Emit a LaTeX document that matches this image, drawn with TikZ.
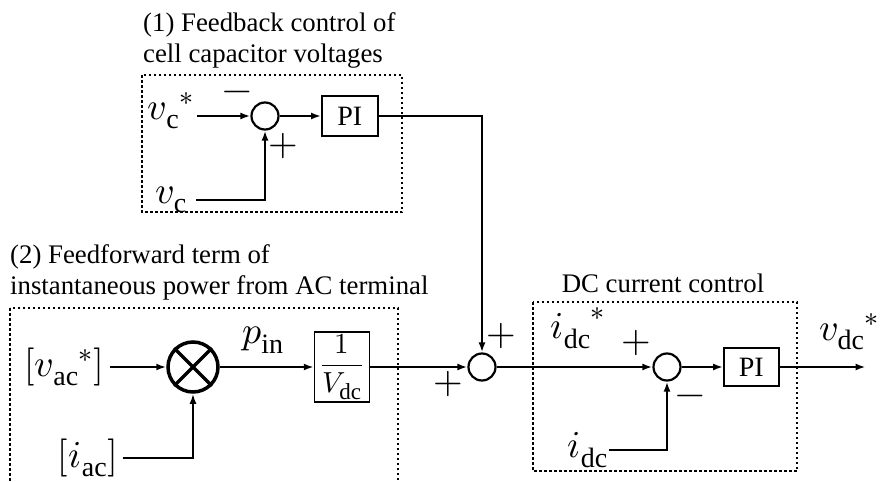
\documentclass[tikz,border=0pt]{standalone}
\usepackage{amsmath}
\usepackage{fontspec}
\usepackage{unicode-math}
\setmainfont{Liberation Serif}
\setmathfont{Latin Modern Math}
\setmathrm{Liberation Serif}
\usetikzlibrary{arrows.meta, positioning}

\DeclareMathSizes{38}{38}{28}{22}
\DeclareMathSizes{29}{29}{23}{18}
\newcommand{\txtsize}{\fontsize{26.8}{31}\selectfont}
\newcommand{\mathsize}{\fontsize{38}{42}\selectfont}

\begin{document}
\begin{tikzpicture}[
  x=1pt, y=-1pt,
  block/.style={rectangle, draw, line width=1.5pt, minimum width=56pt, minimum height=38pt, inner sep=0pt, align=center, font=\fontsize{28}{32}\selectfont},
  sumnode/.style={circle, draw, line width=2.2pt, minimum size=27pt, inner sep=0pt},
  mulnode/.style={circle, draw, line width=3.5pt, minimum size=50pt, inner sep=0pt},
  group/.style={draw, line width=2.5pt, dash pattern=on 2.5pt off 2.5pt},
  caption/.style={align=left, inner sep=0pt, font=\txtsize},
  sig/.style={line width=2pt, -{Latex[length=10pt,width=7pt]}},
  var/.style={inner sep=3pt, font=\mathsize},
  sign/.style={inner sep=0pt, font=\mathsize}
]
  \useasboundingbox (0,0) rectangle (887,482);

  % (1) feedback of cell capacitor voltages
  \node[caption, anchor=south west] (cap1) at (143,68) {(1) Feedback control of\\cell capacitor voltages};
  \draw[group] (142,75) rectangle (402,212);
  \node[sumnode] (sum1) at (265,116) {};
  \node[block, minimum height=40pt, right=41.5pt of sum1] (pi1) {PI};
  \node[var, anchor=base east] (vcref) at (197,119) {${v_\mathrm{c}}^*$};
  \node[var, anchor=east, inner sep=9pt] (vc) at (196,200) {$v_\mathrm{c}$};
  \node[sign] (m1) at (237,96) {$-$};
  \node[sign] (p1) at (283,146) {$+$};

  \draw[sig] (vcref.east |- sum1) -- (sum1);
  \draw[sig] (vc) -| (sum1);
  \draw[sig] (sum1) -- (pi1);

  % (2) feedforward of AC power
  \node[caption, anchor=south west] (cap2) at (10,300) {(2) Feedforward term of\\instantaneous power from AC terminal};
  \draw[group] (10,308) rectangle (398,500);
  \node[mulnode] (mul) at (193,367) {};
  \draw[line width=3.5pt] (mul.45) -- (mul.225) (mul.135) -- (mul.315);
  \node[var, anchor=base east, inner sep=6pt] (vac) at (110,376) {$[{v_\mathrm{ac}}^*]$};
  \node[var, anchor=east, inner sep=5pt] (iac) at (123,458) {$[i_\mathrm{ac}]$};
  \node[var] (pin) at (263,340) {$p_\mathrm{in}$};
  \node[block, minimum width=55pt, minimum height=70pt, font=\fontsize{29}{32}\selectfont] (inv) at (342,367) {$\dfrac{1}{V_\mathrm{dc}}$};

  \draw[sig] (vac.east |- mul) -- (mul);
  \draw[sig] (iac) -| (mul);
  \draw[sig] (mul) -- (inv);

  % summing point
  \node[sumnode] (sum0) at (482,367) {};
  \node[sign] (p2) at (501,336) {$+$};
  \node[sign] (p3) at (448,384) {$+$};

  \draw[sig] (pi1) -| (sum0);
  \draw[sig] (inv) -- (sum0);

  % DC current control
  \node[caption, anchor=base] (cap3) at (663,292) {DC current control};
  \draw[group] (533,302) rectangle (797,471);
  \node[sumnode] (sum2) at (667,367) {};
  \node[block, minimum width=55pt, right=41.5pt of sum2] (pi2) {PI};
  \node[var] (idcref) at (578,328) {${i_\mathrm{dc}}^*$};
  \node[sign] (p4) at (636,343) {$+$};
  \node[sign] (m2) at (690,400) {$-$};
  \node[var, anchor=east, inner sep=1pt] (idc) at (609,450) {$i_\mathrm{dc}$};
  \coordinate[right=86pt of pi2] (out);
  \node[var] (vdcref) at (849,332) {${v_\mathrm{dc}}^*$};

  \draw[sig] (sum0) -- (sum2);
  \draw[sig] (sum2) -- (pi2);
  \draw[sig] (idc) -| (sum2);
  \draw[sig] (pi2) -- (out);
\end{tikzpicture}
\end{document}
